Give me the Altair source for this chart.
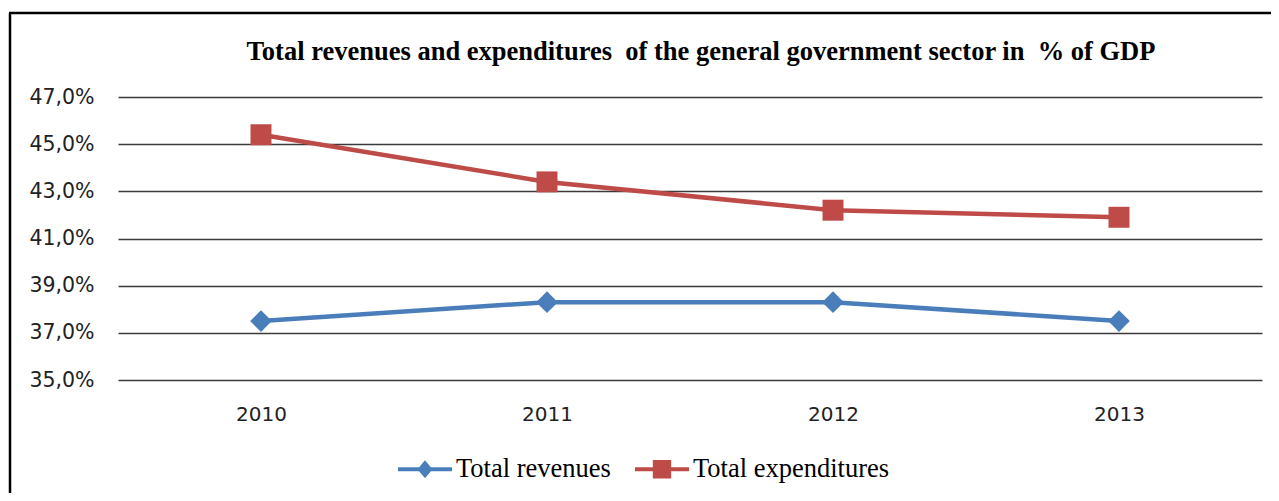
import altair as alt
import pandas as pd

years = ["2010", "2011", "2012", "2013"]
revenues = [37.5, 38.3, 38.3, 37.5]
expenditures = [45.4, 43.4, 42.2, 41.9]
series_names = ["Total revenues", "Total expenditures"]
series_colors = ["#4A7EBB", "#BE4B48"]
y_ticks = [35, 37, 39, 41, 43, 45, 47]
title_text = "Total revenues and expenditures\u00a0 of the general government sector in\u00a0 % of GDP"

rows = []
for yr, r, e in zip(years, revenues, expenditures):
    rows.append({"year": yr, "series": series_names[0], "value": r})
    rows.append({"year": yr, "series": series_names[1], "value": e})
df = pd.DataFrame(rows)

legend_paths = [
    "M-1,-0.075L1,-0.075L1,0.075L-1,0.075Z M0,-0.33L0.28,0L0,0.33L-0.28,0Z",
    "M-1,-0.075L1,-0.075L1,0.075L-1,0.075Z M-0.34,-0.34L0.34,-0.34L0.34,0.34L-0.34,0.34Z",
]

x_enc = alt.X(
    "year:N",
    sort=years,
    scale=alt.Scale(type="point", padding=0.5),
    axis=alt.Axis(title=None, labelAngle=0, ticks=False, domain=False, grid=False,
                  labelPadding=24, labelFont="DejaVu Sans", labelFontSize=20,
                  labelColor="#222222"),
)
y_enc = alt.Y(
    "value:Q",
    scale=alt.Scale(domain=[35, 47], nice=False, zero=False),
    axis=alt.Axis(values=y_ticks, title=None, ticks=False, domain=False,
                  labelPadding=24, labelFont="DejaVu Sans", labelFontSize=20.5,
                  labelColor="#222222",
                  labelExpr="replace(format(datum.value, '.1f'), '.', ',') + '%'",
                  grid=True, gridColor="#3a3a3a", gridWidth=1.4),
)

base = alt.Chart(df)

layers = []
for name, col, shape, size in zip(series_names, series_colors, ["diamond", "square"], [470, 440]):
    sub = base.transform_filter(alt.datum.series == name)
    layers.append(sub.mark_line(strokeWidth=4.5, color=col).encode(x=x_enc, y=y_enc))
    layers.append(sub.mark_point(shape=shape, filled=True, size=size, opacity=1, color=col)
                  .encode(x=x_enc, y=y_enc))

leg = alt.Legend(title=None, orient="none", direction="horizontal", legendX=280, legendY=345,
                 labelFont="Liberation Serif", labelFontSize=26.5, labelColor="black",
                 labelLimit=500, symbolSize=2916, symbolStrokeWidth=0, symbolOpacity=1,
                 labelOffset=4, columnPadding=24)

# legend-only layer: its own marks are placed off the canvas
legend_layer = base.mark_point(filled=True, opacity=1).encode(
    x=alt.value(-2000), y=alt.value(-2000),
    color=alt.Color("series:N", scale=alt.Scale(domain=series_names, range=series_colors), legend=leg),
    shape=alt.Shape("series:N", scale=alt.Scale(domain=series_names, range=legend_paths), legend=leg),
)

one = pd.DataFrame({"k": [0]})
frame_left = alt.Chart(one).mark_rule(color="black", strokeWidth=2.5).encode(
    x=alt.value(-108), y=alt.value(-84), y2=alt.value(400))
frame_top = alt.Chart(one).mark_rule(color="black", strokeWidth=2.5).encode(
    x=alt.value(-109), x2=alt.value(1160), y=alt.value(-84))
title_mark = alt.Chart(one).mark_text(
    font="Liberation Serif", fontSize=26.5, fontWeight="bold", color="black",
    align="center", baseline="alphabetic"
).encode(x=alt.value(583), y=alt.value(-37), text=alt.value(title_text))

chart = alt.layer(legend_layer, *layers, frame_left, frame_top, title_mark).properties(
    width=1144, height=283,
    autosize=alt.AutoSizeParams(type="none"),
    padding={"left": 110, "top": 89, "right": 9, "bottom": 113},
).configure(background="white", view=alt.ViewConfig(stroke=None))

chart.save("out.html", embed_options={"renderer": "svg", "actions": False})
